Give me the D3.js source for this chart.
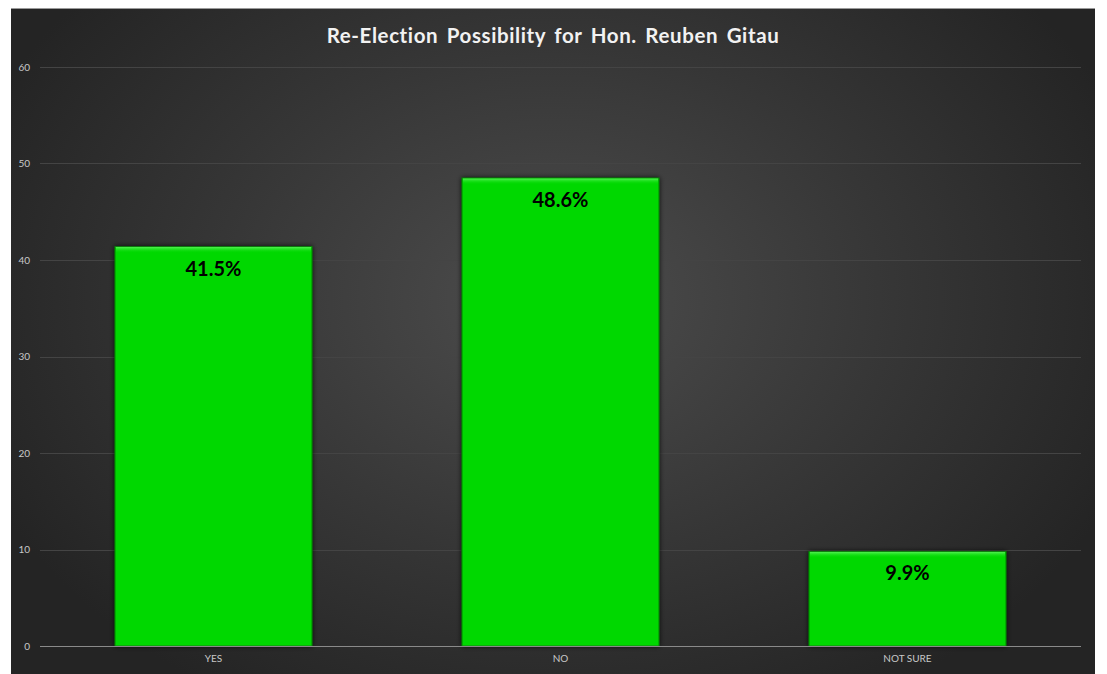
<!DOCTYPE html>
<html><head><meta charset="utf-8">
<script src="https://cdn.jsdelivr.net/npm/d3@7"></script>
<style>html,body{margin:0;padding:0;background:#fff;}svg{display:block;}</style>
</head><body>
<svg id="chart" width="1107" height="674"></svg>
<script>
const categories = ["YES", "NO", "NOT SURE"];
const values = [41.5, 48.6, 9.9];
const valueLabels = ["41.5%", "48.6%", "9.9%"];
const yTicks = [0, 10, 20, 30, 40, 50, 60];
const title = "Re-Election Possibility for Hon. Reuben Gitau";

(function(){
const svg = d3.select("#chart");
const defs = svg.append("defs");
const rg = defs.append("radialGradient").attr("id","bg")
  .attr("gradientUnits","userSpaceOnUse").attr("cx",553).attr("cy",300).attr("r",620)
  .attr("gradientTransform","translate(553,300) scale(1,0.75) translate(-553,-300)");
rg.append("stop").attr("offset","0%").attr("stop-color","#4d4d4d");
rg.append("stop").attr("offset","55%").attr("stop-color","#363636");
rg.append("stop").attr("offset","100%").attr("stop-color","#242424");

const hg = defs.append("linearGradient").attr("id","hl").attr("x1",0).attr("y1",0).attr("x2",0).attr("y2",1);
hg.append("stop").attr("offset","0%").attr("stop-color","#5af55a").attr("stop-opacity",0.9);
hg.append("stop").attr("offset","100%").attr("stop-color","#04d804").attr("stop-opacity",0);

const sh = defs.append("filter").attr("id","shadow").attr("x","-10%").attr("y","-10%").attr("width","120%").attr("height","120%");
sh.append("feGaussianBlur").attr("in","SourceAlpha").attr("stdDeviation",2.5).attr("result","b");
sh.append("feComponentTransfer").attr("in","b").attr("result","o2").append("feFuncA").attr("type","linear").attr("slope",0.8);
const m = sh.append("feMerge"); m.append("feMergeNode").attr("in","o2"); m.append("feMergeNode").attr("in","SourceGraphic");

// chart frame
svg.append("rect").attr("x",11).attr("y",8).attr("width",1084).attr("height",666).attr("fill","url(#bg)");
svg.append("line").attr("x1",11).attr("x2",1095).attr("y1",8.5).attr("y2",8.5).attr("stroke","#9a9a9a").attr("stroke-width",1);

const pl = 40, pr = 1081, pt = 67, pb = 646;
const x = d3.scaleBand().domain(categories).range([pl, pr]).paddingInner(0.432).paddingOuter(0.216);
const y = d3.scaleLinear().domain([0, 60]).range([pb, pt]);

// gridlines
svg.append("g").selectAll("line").data(yTicks.filter(d => d > 0)).join("line")
  .attr("x1", pl).attr("x2", pr)
  .attr("y1", d => Math.round(y(d)) + 0.5).attr("y2", d => Math.round(y(d)) + 0.5)
  .attr("stroke", "#444").attr("stroke-width", 1);

// y axis labels
const yAxis = d3.axisLeft(y).tickValues(yTicks).tickSize(0).tickPadding(0);
const yg = svg.append("g").attr("transform", `translate(30,0)`).call(yAxis);
yg.select(".domain").remove();
yg.selectAll("text").attr("fill","#c8c8c8").attr("font-family","Lato, 'Open Sans', sans-serif").attr("font-size",10);

// bars
const bars = svg.append("g").selectAll("g").data(categories).join("g");
bars.append("rect")
  .attr("x", d => x(d)).attr("width", x.bandwidth())
  .attr("y", (d,i) => y(values[i]) + 1).attr("height", (d,i) => y(0) - y(values[i]) - 1)
  .attr("fill", "#04d804").attr("stroke","#0b7a0b").attr("stroke-width",1)
  .attr("filter","url(#shadow)");
bars.append("rect")
  .attr("x", d => x(d) + 1).attr("width", x.bandwidth() - 2)
  .attr("y", (d,i) => y(values[i]) + 1.5).attr("height", 6)
  .attr("fill", "url(#hl)");

// value labels
bars.append("text")
  .attr("x", d => x(d) + x.bandwidth()/2)
  .attr("y", (d,i) => y(values[i]) + 30)
  .attr("text-anchor","middle")
  .attr("font-family","Lato, 'Open Sans', sans-serif").attr("font-weight","bold").attr("font-size",20)
  .attr("fill","#000")
  .text((d,i) => valueLabels[i]);

// baseline
svg.append("line").attr("x1", pl).attr("x2", pr).attr("y1", pb + 0.5).attr("y2", pb + 0.5)
  .attr("stroke","#8a8a8a").attr("stroke-width",1);

// x axis labels
const xAxis = d3.axisBottom(x).tickSize(0).tickPadding(0);
const xg = svg.append("g").attr("transform", `translate(0,${pb + 11})`).call(xAxis);
xg.select(".domain").remove();
xg.selectAll("text").attr("fill","#c8c8c8").attr("font-family","Lato, 'Open Sans', sans-serif").attr("font-size",10).attr("dy","0.5em");

// title
svg.append("text").attr("x", 553).attr("y", 43).attr("text-anchor","middle")
  .attr("font-family","Lato, 'Open Sans', sans-serif").attr("font-weight","bold").attr("font-size",20.5)
  .attr("letter-spacing","0.6px").attr("word-spacing","3px")
  .attr("fill","#f2f2f2").text(title);
})();
</script>
</body></html>
